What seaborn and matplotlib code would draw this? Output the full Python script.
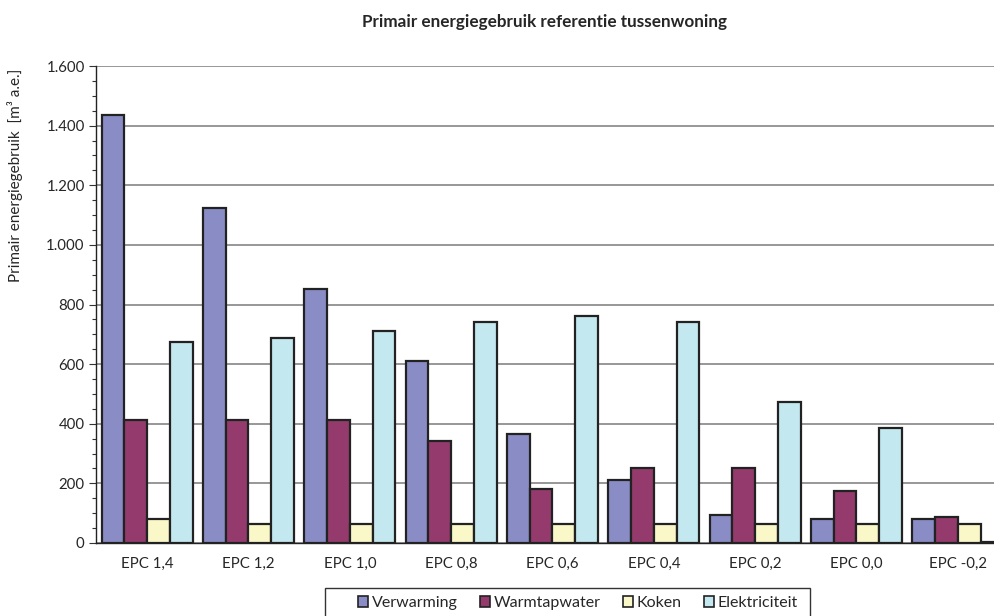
import pandas as pd
import matplotlib.pyplot as plt
import seaborn as sns
from matplotlib.patches import Rectangle
from matplotlib.ticker import MultipleLocator, FuncFormatter

# values (m3 a.e.)
categories = ["EPC 1,4", "EPC 1,2", "EPC 1,0", "EPC 0,8", "EPC 0,6",
              "EPC 0,4", "EPC 0,2", "EPC 0,0", "EPC -0,2"]
verwarming = [1435, 1125, 852, 611, 366, 211, 94, 80, 80]
warmtapwater = [413, 413, 413, 342, 182, 252, 252, 175, 87]
koken = [80, 64, 64, 64, 64, 64, 64, 64, 64]
elektriciteit = [674, 688, 711, 742, 762, 742, 473, 386, 5]

series = ["Verwarming", "Warmtapwater", "Koken", "Elektriciteit"]
colors = ["#8A8DC5", "#943A6C", "#FAF8C9", "#C4E8EF"]

df = pd.DataFrame({"EPC": categories, "Verwarming": verwarming,
                   "Warmtapwater": warmtapwater, "Koken": koken,
                   "Elektriciteit": elektriciteit})
long = df.melt(id_vars="EPC", var_name="soort", value_name="waarde")

sns.set_style("white")
plt.rcParams["font.family"] = ["Lato", "DejaVu Sans"]

fig = plt.figure(figsize=(9.95, 6.16), dpi=100)
ax = fig.add_axes([96.5 / 995, 73 / 616, 912 / 995, 477 / 616])

sns.barplot(data=long, x="EPC", y="waarde", hue="soort", hue_order=series,
            order=categories, palette=colors, width=0.895, saturation=1,
            edgecolor="#222222", linewidth=1.6, ax=ax, legend=False)

ax.set_xlim(-0.5, len(categories) - 0.5)
ax.set_ylim(0, 1600)
ax.yaxis.set_major_locator(MultipleLocator(200))
ax.yaxis.set_minor_locator(MultipleLocator(50))
ax.yaxis.set_major_formatter(FuncFormatter(lambda v, p: f"{int(v):,}".replace(",", ".")))
ax.grid(axis="y", color="#7a7a7a", linewidth=1.1)
ax.set_axisbelow(True)
ax.set_xticks([i - 0.5 for i in range(len(categories) + 1)], minor=True)
ax.tick_params(axis="x", which="major", length=0, labelsize=10.8, pad=10)
ax.tick_params(axis="x", which="minor", length=5, width=0.8, color="#333333", direction="out")
ax.tick_params(axis="y", which="major", length=5, width=0.8, labelsize=10.8, color="#333333", left=True)
ax.tick_params(axis="y", which="minor", length=3, width=0.8, color="#333333", left=True)
ax.set_xlabel("")
ax.set_ylabel("")

for side in ["top", "right"]:
    ax.spines[side].set_visible(False)
for side in ["left", "bottom"]:
    ax.spines[side].set_color("#222222")
    ax.spines[side].set_linewidth(1.0)

fig.text(544 / 995, 1 - 22 / 616, "Primair energiegebruik referentie tussenwoning",
         ha="center", va="center", fontsize=12.3, fontweight="bold")
fig.text(15 / 995, 1 - 175 / 616, "Primair energiegebruik  [m\u00b3 a.e.]",
         rotation=90, ha="center", va="center", fontsize=11)

# legend box, open at the bottom edge of the picture
fig.patches.append(Rectangle((325 / 995, -0.01), 485 / 995, 28 / 616 + 0.01,
                             transform=fig.transFigure, facecolor="white",
                             edgecolor="#333333", linewidth=1.0))
handles = [plt.Rectangle((0, 0), 1, 1, facecolor=c, edgecolor="#222222", linewidth=1.2)
           for c in colors]
fig.legend(handles, series, ncol=4, loc="center left",
           bbox_to_anchor=(350 / 995, 1 - 603 / 616), frameon=False,
           fontsize=11.5, handlelength=0.65, handleheight=0.65,
           handletextpad=0.2, columnspacing=1.4, borderpad=0)

fig.savefig("out.png", dpi=100)
